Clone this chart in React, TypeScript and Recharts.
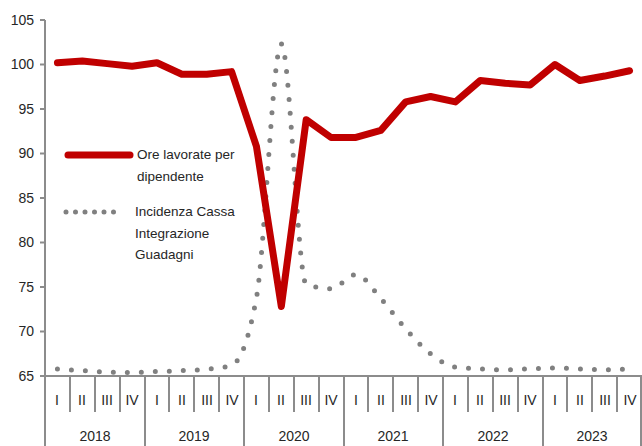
import { LineChart, Line, XAxis, YAxis } from 'recharts';

const YEARS = ['2018', '2019', '2020', '2021', '2022', '2023'];
const QUARTERS = ['I', 'II', 'III', 'IV'];
const Y_TICKS = [65, 70, 75, 80, 85, 90, 95, 100, 105];

// ore lavorate per dipendente (indice)
const ORE = [
  100.2, 100.4, 100.1, 99.8,
  100.2, 98.9, 98.9, 99.2,
  90.8, 72.8, 93.8, 91.8,
  91.8, 92.6, 95.8, 96.4,
  95.8, 98.2, 97.9, 97.7,
  100.0, 98.2, 98.7, 99.3,
];

// incidenza cassa integrazione guadagni
const CIG = [
  65.8, 65.6, 65.45, 65.4,
  65.5, 65.6, 65.75, 66.2,
  73.8, 102.3, 75.3, 74.8,
  76.4, 73.7, 70.3, 67.5,
  66.0, 65.8, 65.7, 65.8,
  65.9, 65.8, 65.7, 65.8,
];

const LEGEND_ORE = ['Ore lavorate per', 'dipendente'];
const LEGEND_CIG = ['Incidenza Cassa', 'Integrazione', 'Guadagni'];

const data = YEARS.flatMap((year, yi) =>
  QUARTERS.map((q, qi) => ({
    year,
    q,
    ore: ORE[yi * 4 + qi],
    cig: CIG[yi * 4 + qi],
  }))
);

const W = 642;
const H = 446;
const Y_W = 45;
const X_H = 70;
const BAND = (W - Y_W) / data.length;
const FONT = '"Liberation Sans", Arial, sans-serif';
const AXIS = '#8c8c8c';
const TEXT = '#262626';

function QuarterTick(props: any) {
  const { x, y, payload, index } = props;
  const row = data[index];
  const left = Math.round(x - BAND / 2);
  const yearStart = index % 4 === 0;
  return (
    <g>
      <line x1={left} x2={left} y1={y} y2={yearStart ? y + X_H : y + 36} stroke={AXIS} strokeWidth={2} />
      {index === data.length - 1 && (
        <line x1={W - 1} x2={W - 1} y1={y} y2={y + X_H} stroke={AXIS} strokeWidth={2} />
      )}
      <text x={Math.round(x)} y={y + 29} textAnchor="middle" fontSize={14} fontFamily={FONT} fill={TEXT}>
        {payload.value}
      </text>
      {index % 4 === 1 && (
        <text x={Math.round(x + BAND / 2)} y={y + 65} textAnchor="middle" fontSize={14} fontFamily={FONT} fill={TEXT}>
          {row.year}
        </text>
      )}
    </g>
  );
}

function LegendOverlay() {
  const txt = (lines: string[], left: number, top: number) => (
    <div style={{ position: 'absolute', left, top, fontFamily: FONT, fontSize: 13.5, lineHeight: '21.5px', color: TEXT, whiteSpace: 'nowrap' }}>
      {lines.map((l) => <div key={l}>{l}</div>)}
    </div>
  );
  return (
    <div style={{ position: 'absolute', left: 0, top: 0, width: W, height: H, pointerEvents: 'none' }}>
      <svg width={W} height={H} style={{ position: 'absolute', left: 0, top: 0 }}>
        <line x1={68} x2={130} y1={155} y2={155} stroke="#c00000" strokeWidth={7} strokeLinecap="round" />
        <line x1={66} x2={123} y1={212} y2={212} stroke="#808080" strokeWidth={5} strokeLinecap="round" strokeDasharray="0 9.5" />
      </svg>
      {txt(LEGEND_ORE, 137, 144)}
      {txt(LEGEND_CIG, 135, 201)}
    </div>
  );
}

export default function App() {
  return (
    <div style={{ position: 'absolute', left: 0, top: 0, width: W, height: H, background: '#fff' }}>
      <LineChart width={W} height={H} data={data} margin={{ top: 20, right: 0, bottom: 0, left: 0 }}>
        <XAxis
          dataKey="q"
          height={X_H}
          interval={0}
          padding={{ left: BAND / 2, right: BAND / 2 }}
          tickLine={false}
          tickSize={0}
          tickMargin={0}
          axisLine={{ stroke: AXIS, strokeWidth: 2 }}
          tick={<QuarterTick />}
        />
        <YAxis
          width={Y_W}
          domain={[65, 105]}
          ticks={Y_TICKS}
          interval={0}
          tickSize={5}
          tickMargin={6}
          axisLine={{ stroke: AXIS, strokeWidth: 2 }}
          tickLine={{ stroke: AXIS, strokeWidth: 2 }}
          tick={{ fontSize: 14, fontFamily: FONT, fill: TEXT }}
        />
        <Line
          type="monotone"
          dataKey="cig"
          name="Incidenza Cassa Integrazione Guadagni"
          stroke="#808080"
          strokeWidth={5}
          strokeDasharray="0 14"
          strokeLinecap="round"
          dot={false}
          activeDot={false}
          isAnimationActive={false}
        />
        <Line
          type="linear"
          dataKey="ore"
          name="Ore lavorate per dipendente"
          stroke="#c00000"
          strokeWidth={7}
          strokeLinecap="round"
          strokeLinejoin="round"
          dot={false}
          activeDot={false}
          isAnimationActive={false}
        />
      </LineChart>
      <LegendOverlay />
    </div>
  );
}
